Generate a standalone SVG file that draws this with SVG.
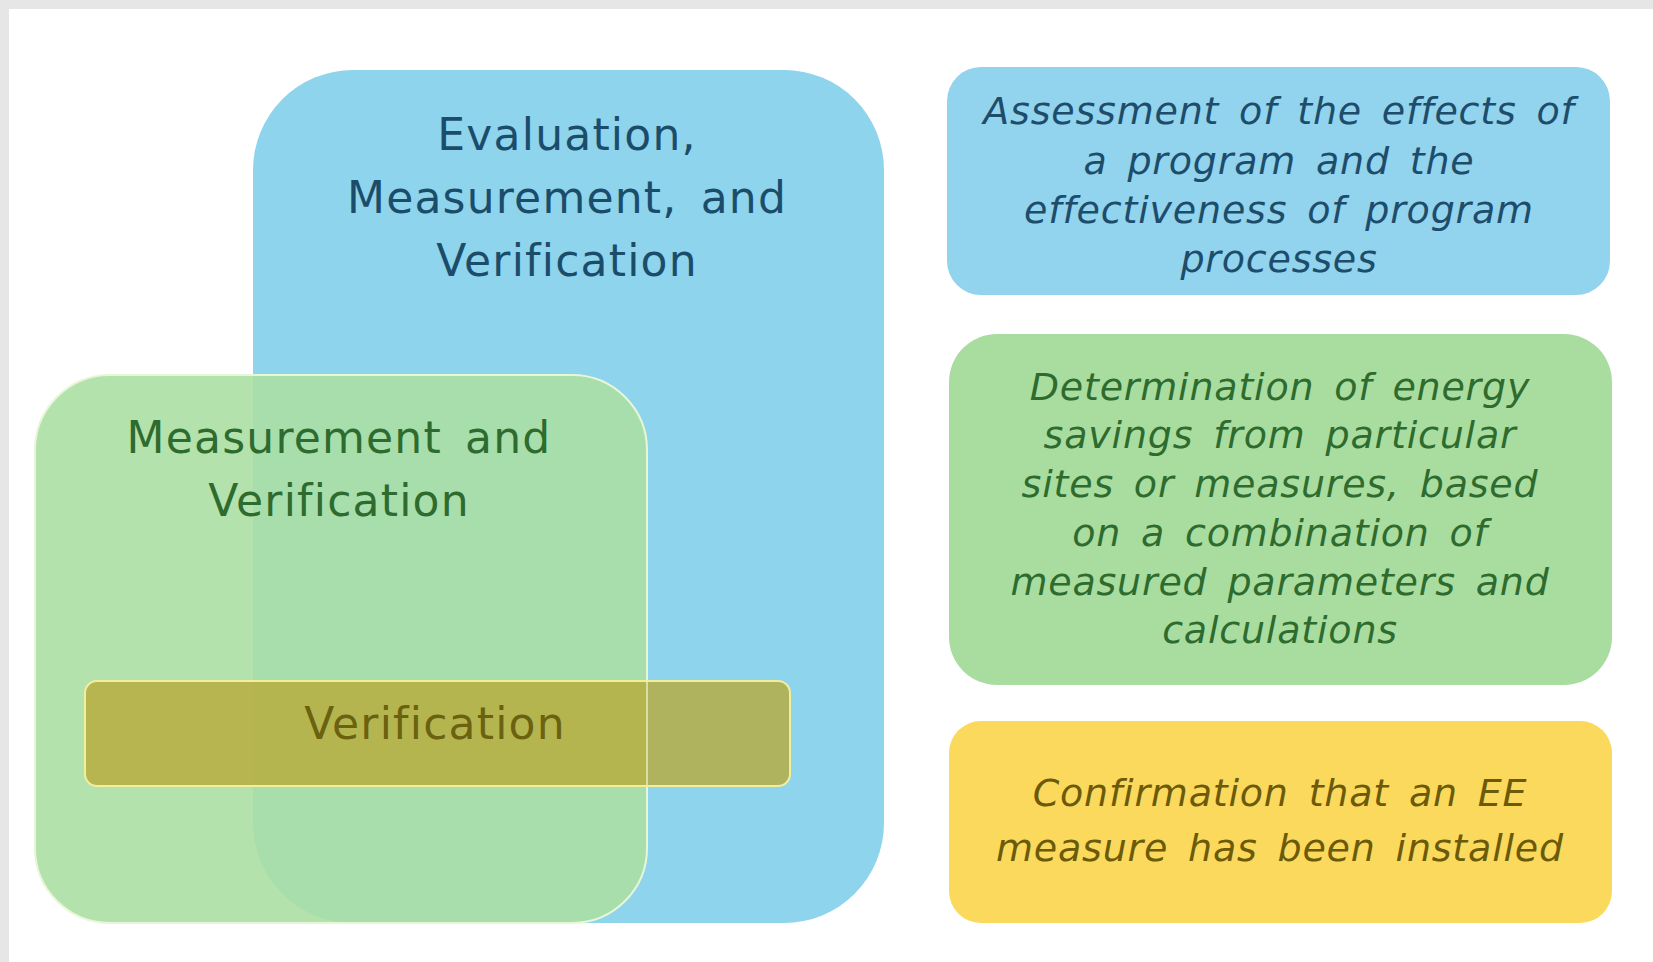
<svg xmlns="http://www.w3.org/2000/svg" width="1653" height="962" viewBox="0 0 1653 962">
  <style>
    .big { font-family: "DejaVu Sans", Verdana, sans-serif; font-size: 44px; text-anchor: middle; letter-spacing: 1.2px; word-spacing: 8px; }
    .desc { font-family: "DejaVu Sans", Verdana, sans-serif; font-size: 38px; font-style: italic; text-anchor: middle; letter-spacing: 0.8px; word-spacing: 7px; }
  </style>
  <!-- page frame -->
  <rect x="0" y="0" width="1653" height="962" fill="#e6e6e6"/>
  <rect x="9" y="9" width="1644" height="953" fill="#ffffff"/>

  <!-- nested scope boxes -->
  <g id="emv">
    <rect x="253" y="70" width="631" height="853" rx="100" fill="#8ed4ed"/>
    <text class="big" fill="#1b4d6a" x="567" y="150">Evaluation,</text>
    <text class="big" fill="#1b4d6a" x="567" y="213">Measurement, and</text>
    <text class="big" fill="#1b4d6a" x="567" y="276">Verification</text>
  </g>
  <g id="mv">
    <rect x="35" y="375" width="612" height="548" rx="75" fill="#abdfa3" fill-opacity="0.9" stroke="#e8f6d8" stroke-width="2"/>
    <text class="big" fill="#2e6b2e" x="339" y="453">Measurement and</text>
    <text class="big" fill="#2e6b2e" x="339" y="516">Verification</text>
  </g>
  <g id="v">
    <rect x="85" y="681" width="705" height="105" rx="12" fill="#b8aa3a" fill-opacity="0.8" stroke="#f2eea0" stroke-width="2"/>
    <line x1="647" y1="682" x2="647" y2="785" stroke="#e8f6d8" stroke-opacity="0.6" stroke-width="2"/>
    <text class="big" fill="#6a6210" x="435" y="739">Verification</text>
  </g>

  <!-- definitions -->
  <g id="emv-def">
    <rect x="947" y="67" width="663" height="228" rx="34" fill="#92d3ee"/>
    <text class="desc" fill="#1d4d6a" x="1279" y="124">Assessment of the effects of</text>
    <text class="desc" fill="#1d4d6a" x="1279" y="174">a program and the</text>
    <text class="desc" fill="#1d4d6a" x="1279" y="223">effectiveness of program</text>
    <text class="desc" fill="#1d4d6a" x="1279" y="272">processes</text>
  </g>
  <g id="mv-def">
    <rect x="949" y="334" width="663" height="351" rx="48" fill="#a9dda0"/>
    <text class="desc" fill="#2e6b2e" x="1280" y="400">Determination of energy</text>
    <text class="desc" fill="#2e6b2e" x="1280" y="448">savings from particular</text>
    <text class="desc" fill="#2e6b2e" x="1280" y="497">sites or measures, based</text>
    <text class="desc" fill="#2e6b2e" x="1280" y="546">on a combination of</text>
    <text class="desc" fill="#2e6b2e" x="1280" y="595">measured parameters and</text>
    <text class="desc" fill="#2e6b2e" x="1280" y="643">calculations</text>
  </g>
  <g id="v-def">
    <rect x="949" y="721" width="663" height="202" rx="32" fill="#fad95d"/>
    <text class="desc" fill="#6b5a08" x="1280" y="806">Confirmation that an EE</text>
    <text class="desc" fill="#6b5a08" x="1280" y="861">measure has been installed</text>
  </g>

  <g id="connectors"/>
</svg>
